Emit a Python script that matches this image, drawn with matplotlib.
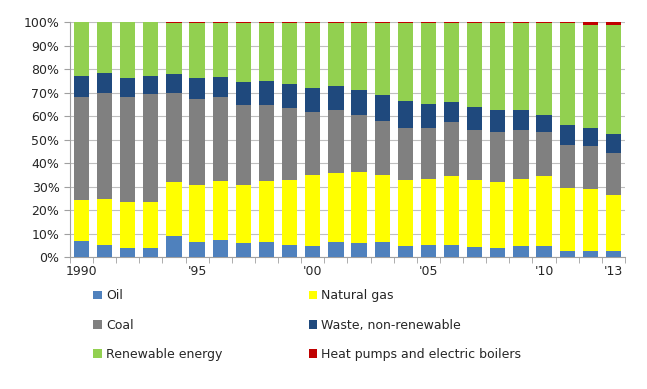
import matplotlib
matplotlib.use("Agg")
import matplotlib.pyplot as plt
import numpy as np

years = list(range(1990, 2014))
tick_labels = ["1990", "'95", "'00", "'05", "'10", "'13"]
tick_years = [1990, 1995, 2000, 2005, 2010, 2013]

oil = [6.8, 5.3, 3.8, 3.8, 9.0, 6.4, 7.4, 6.0, 6.4, 5.3, 4.8, 6.4, 6.0, 6.4, 4.8, 5.3, 5.3, 4.1, 3.8, 4.8, 4.6, 2.8, 2.8, 2.4]
natural_gas = [17.4, 19.3, 19.7, 19.7, 22.9, 24.5, 25.2, 24.9, 26.2, 27.7, 30.3, 29.4, 30.1, 28.5, 27.9, 28.1, 29.1, 28.6, 28.3, 28.6, 29.8, 26.6, 26.2, 24.1]
coal = [43.9, 45.4, 44.6, 45.8, 38.1, 36.5, 35.5, 34.0, 32.3, 30.4, 26.8, 26.9, 24.4, 23.1, 22.3, 21.6, 23.2, 21.6, 21.1, 20.7, 18.8, 18.4, 18.1, 18.0]
waste = [9.1, 8.4, 8.3, 7.9, 8.0, 8.7, 8.4, 9.5, 9.9, 10.3, 10.2, 10.3, 10.6, 10.8, 11.4, 10.3, 8.4, 9.4, 9.5, 8.6, 7.4, 8.4, 7.7, 8.0]
renewable = [22.8, 21.6, 23.6, 22.8, 21.8, 23.7, 23.3, 25.4, 25.0, 26.1, 27.7, 26.8, 28.7, 31.0, 33.4, 34.5, 33.8, 36.1, 37.1, 37.1, 39.2, 43.3, 44.2, 46.5]
heat_pumps = [0, 0, 0, 0, 0.2, 0.2, 0.2, 0.2, 0.2, 0.2, 0.2, 0.2, 0.2, 0.2, 0.2, 0.2, 0.2, 0.2, 0.2, 0.2, 0.2, 0.5, 1.0, 1.0]

series = [
    ("Oil", oil, "#4F81BD"),
    ("Natural gas", natural_gas, "#FFFF00"),
    ("Coal", coal, "#808080"),
    ("Waste, non-renewable", waste, "#1F497D"),
    ("Renewable energy", renewable, "#92D050"),
    ("Heat pumps and electric boilers", heat_pumps, "#C00000"),
]

plt.rcParams['font.family'] = ['DejaVu Sans']
fig = plt.figure(figsize=(6.47, 3.89), dpi=100)
ax = fig.add_axes([0.108, 0.339, 0.858, 0.604])

x = np.arange(len(years))
bottom = np.zeros(len(years))
handles = []
for name, vals, col in series:
    v = np.array(vals, dtype=float)
    h = ax.bar(x, v, bottom=bottom, width=0.66, color=col, label=name, zorder=3, linewidth=0)
    handles.append(h)
    bottom += v

ax.set_xlim(-0.5, len(years) - 0.5)
ax.set_ylim(0, 100)
ax.set_yticks(np.arange(0, 101, 10))
ax.set_yticklabels([f"{v}%" for v in range(0, 101, 10)])
ax.yaxis.grid(True, color="#BFBFBF", linewidth=0.8, zorder=0)
ax.set_axisbelow(True)

ax.set_xticks([years.index(y) for y in tick_years])
ax.set_xticklabels(tick_labels)
ax.set_xticks(np.arange(-0.5, len(years), 1.0), minor=True)
ax.tick_params(axis='x', which='major', length=0, pad=6, labelsize=9, colors="#262626")
ax.tick_params(axis='x', which='minor', length=4, color="#A0A0A0", direction='out')
ax.tick_params(axis='y', length=4, color="#A0A0A0", labelsize=9, colors="#262626")
ax.tick_params(axis='y', color="#A0A0A0")

for s in ["top", "right"]:
    ax.spines[s].set_visible(False)
for s in ["left", "bottom"]:
    ax.spines[s].set_color("#A0A0A0")
    ax.spines[s].set_linewidth(0.8)

order = [0, 2, 4, 1, 3, 5]
leg = fig.legend([handles[i] for i in order], [series[i][0] for i in order],
                 loc="upper left", bbox_to_anchor=(0.127, 0.285), ncol=2,
                 frameon=False, fontsize=9, handlelength=0.7, handleheight=0.7,
                 handletextpad=0.3, columnspacing=6.9, labelspacing=1.3)
for t in leg.get_texts():
    t.set_color("#262626")

fig.savefig("out.png", dpi=100)
